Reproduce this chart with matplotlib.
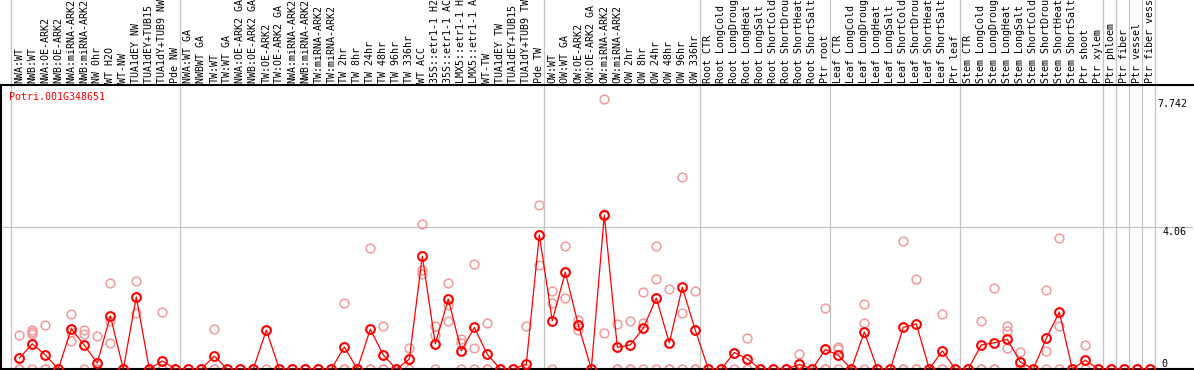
import matplotlib
matplotlib.use("Agg")
import matplotlib.pyplot as plt
import matplotlib.transforms as mtransforms

# ---------------- data ----------------
labels = [
    "NWA:WT", "NWB:WT", "NWA:OE-ARK2", "NWB:OE-ARK2", "NWA:miRNA-ARK2", "NWB:miRNA-ARK2",
    "NW 0hr", "WT H2O", "WT-NW", "TUA1dEY NW", "TUA1dEY+TUB15 NW", "TUA1dY+TUB9 NW", "Pde NW",
    "NWA:WT GA", "NWBWT GA", "TW:WT", "TW:WT GA", "NWA:OE-ARK2 GA", "NWB:OE-ARK2 GA",
    "TW:OE-ARK2", "TW:OE-ARK2 GA", "NWA:miRNA-ARK2", "NWB:miRNA-ARK2", "TW:miRNA-ARK2",
    "TW:miRNA-ARK2", "TW 2hr", "TW 8hr", "TW 24hr", "TW 48hr", "TW 96hr", "TW 336hr", "WT ACC",
    "35S::etr1-1 H2O", "35S::etr1-1 ACC", "LMX5::etr1-1 H2O", "LMX5::etr1-1 ACC", "WT-TW",
    "TUA1dEY TW", "TUA1dEY+TUB15 TW", "TUA1dY+TUB9 TW", "Pde TW",
    "OW:WT", "OW:WT GA", "OW:OE-ARK2", "OW:OE-ARK2 GA", "OW:miRNA-ARK2", "OW:miRNA-ARK2",
    "OW 2hr", "OW 8hr", "OW 24hr", "OW 48hr", "OW 96hr", "OW 336hr",
    "Root CTR", "Root LongCold", "Root LongDrought", "Root LongHeat", "Root LongSalt",
    "Root ShortCold", "Root ShortDrought", "Root ShortHeat", "Root ShortSalt", "Ptr root",
    "Leaf CTR", "Leaf LongCold", "Leaf LongDrought", "Leaf LongHeat", "Leaf LongSalt",
    "Leaf ShortCold", "Leaf ShortDrought", "Leaf ShortHeat", "Leaf ShortSalt", "Ptr leaf",
    "Stem CTR", "Stem LongCold", "Stem LongDrought", "Stem LongHeat", "Stem LongSalt",
    "Stem ShortCold", "Stem ShortDrought", "Stem ShortHeat", "Stem ShortSalt", "Ptr shoot",
    "Ptr xylem", "Ptr phloem", "Ptr fiber", "Ptr vessel", "Ptr fiber vessel",
]

means = [
    0.31, 0.72, 0.40, 0.00, 1.15, 0.68, 0.17, 1.52, 0.00, 2.06, 0.00, 0.23, 0.00,
    0.00, 0.00, 0.37, 0.00, 0.00, 0.00, 1.11, 0.00, 0.00, 0.00, 0.00, 0.00, 0.63, 0.00,
    1.14, 0.40, 0.00, 0.28, 3.23, 0.72, 2.00, 0.52, 1.19, 0.42, 0.00, 0.00, 0.14, 3.84,
    1.38, 2.77, 1.26, 0.00, 4.40, 0.62, 0.69, 1.17, 2.03, 0.75, 2.34, 1.11,
    0.00, 0.00, 0.47, 0.29, 0.00, 0.00, 0.00, 0.13, 0.00, 0.56,
    0.39, 0.00, 1.06, 0.00, 0.00, 1.19, 1.29, 0.00, 0.52, 0.00,
    0.00, 0.69, 0.75, 0.85, 0.20, 0.00, 0.88, 1.63, 0.00, 0.25,
    0.00, 0.00, 0.00, 0.00, 0.00,
]

replicates = [
    [0.97, 0, 0], [1.12, 1.06, 0.99, 0], [1.26, 0, 0], [0], [1.58, 1.07, 0.80],
    [1.12, 0.99, 0], [0.95, 0, 0], [2.46, 1.38, 0.75], [0], [2.52, 2.06, 1.60],
    [0], [1.62, 0, 0], [0],
    [0], [0], [1.14, 0, 0], [0], [0], [0], [1.11, 0], [0], [0], [0], [0], [0],
    [1.88, 0, 0], [0], [3.46, 0, 0], [1.23, 0, 0], [0], [0.60, 0.28, 0],
    [4.15, 2.82, 2.72], [1.23, 0.97, 0], [2.46, 1.83, 1.37], [0.85, 0.75, 0],
    [3.00, 0.59, 0], [1.32, 0, 0], [0], [0], [1.23, 0, 0], [4.69, 2.97, 3.84],
    [2.23, 1.88, 0], [3.52, 2.04, 2.77], [1.40, 1.12, 1.26], [0], [7.742, 1.02, 4.44],
    [1.28, 0, 0], [1.37, 0, 0], [2.20, 1.31, 0], [3.52, 2.58, 0], [2.29, 0, 0],
    [5.49, 1.60, 0], [2.23, 0, 0],
    [0], [0], [0.47, 0], [0.89, 0, 0], [0], [0], [0], [0.43, 0, 0], [0], [1.75, 0, 0],
    [0.64, 0.56, 0], [0], [1.85, 1.32, 0], [0], [0], [3.67, 0, 0], [2.58, 0, 0], [0],
    [1.57, 0, 0], [0],
    [0], [1.38, 0, 0], [2.32, 0, 0], [1.22, 1.1, 0.6], [0.5, 0], [0], [2.26, 0.52, 0],
    [3.75, 1.23, 0], [0], [0.69, 0],
    [0], [0], [0], [0], [0],
]

group_starts = [0, 13, 41, 53, 63, 73, 84, 85, 86, 87, 88]

gene_name = "Potri.001G348651"
max_label = "7.742"
mid_label = "4.06"
zero_label = "0"
y_max = 7.742

# ---------------- figure ----------------
W, H = 1194, 370
fig = plt.figure(figsize=(W / 100, H / 100), dpi=100)
ax_left, ax_right = 1, 1193
ax_top, ax_bottom = 85, 369
ax = fig.add_axes([ax_left / W, 1 - ax_bottom / H,
                   (ax_right - ax_left) / W, (ax_bottom - ax_top) / H])

x0_px, step_px = 19.3, 13.0
ax.set_xlim((ax_left - x0_px) / step_px, (ax_right - x0_px) / step_px)
ytop = y_max * 1.05
ax.set_ylim(0, ytop)

mono = "DejaVu Sans Mono"
fs = 7.2
grey = "#c4c4c4"
red = "#ff0000"
pink = "#f09a9a"

# grid
ax.axhline(ytop / 2, color=grey, lw=0.9, zorder=1)
sep_off = -8.0 / step_px
fig_top_axes = ax_bottom / (ax_bottom - ax_top)
for g in group_starts:
    ax.axvline(g + sep_off, ymin=0, ymax=fig_top_axes, color=grey, lw=0.9,
               clip_on=False, zorder=1)

# replicates
for i, reps in enumerate(replicates):
    ax.plot([i] * len(reps), reps, linestyle="none", marker="o", markersize=6.3,
            markerfacecolor="none", markeredgecolor=pink, markeredgewidth=1.1, zorder=2)

# means
xs = list(range(len(means)))
ax.plot(xs, means, color=red, lw=0.9, marker="o", markersize=6.3,
        markerfacecolor="none", markeredgecolor=red, markeredgewidth=1.5, zorder=3)

# category labels above the axes
trans = mtransforms.blended_transform_factory(ax.transData, ax.transAxes)
for i, lab in enumerate(labels):
    ax.text(i, 1.0 + 2 / (ax_bottom - ax_top), lab, transform=trans, rotation=90,
            ha="center", va="bottom", fontsize=fs, family=mono, color="black",
            clip_on=False)

# gene name
ax.text(8 / (ax_right - ax_left), 1 - 12 / (ax_bottom - ax_top), gene_name,
        transform=ax.transAxes, ha="left", va="center", fontsize=fs,
        family=mono, color=red)

# right-side value labels
def px_to_axes_x(px):
    return (px - ax_left) / (ax_right - ax_left)

blend = mtransforms.blended_transform_factory(ax.transAxes, ax.transData)
ax.text(px_to_axes_x(1187), y_max, max_label, ha="right", va="top",
        transform=blend, fontsize=fs, family=mono, color="black")
ax.text(px_to_axes_x(1187), ytop / 2, mid_label, ha="right", va="top",
        transform=blend, fontsize=fs, family=mono, color="black")
ax.text(px_to_axes_x(1161), 0.0, zero_label, ha="left", va="bottom",
        transform=blend, fontsize=fs, family=mono, color="black")

ax.set_xticks([])
ax.set_yticks([])
for side in ["left", "top", "bottom"]:
    ax.spines[side].set_color("black")
    ax.spines[side].set_linewidth(1.5)
ax.spines["right"].set_visible(False)

fig.savefig("out.png", dpi=100)
